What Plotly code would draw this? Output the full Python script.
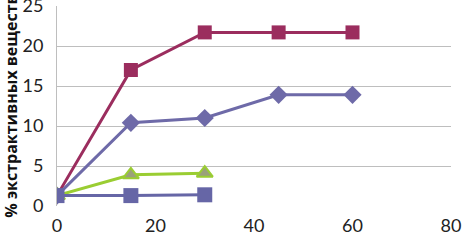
import plotly.graph_objects as go

x_long = [0, 15, 30, 45, 60]
x_short = [0, 15, 30]
s_maroon = [1.3, 17.0, 21.7, 21.7, 21.7]
s_diamond = [1.3, 10.4, 11.0, 13.9, 13.9]
s_green = [1.3, 3.9, 4.1]
s_blue = [1.3, 1.3, 1.4]
y_title = "% экстрактивных веществ"

fig = go.Figure()
fig.add_trace(go.Scatter(x=x_long, y=s_maroon, mode="lines+markers",
    line=dict(color="#9B2D5E", width=3),
    marker=dict(symbol="square", size=14, color="#9B2D5E")))
fig.add_trace(go.Scatter(x=x_long, y=s_diamond, mode="lines+markers",
    line=dict(color="#6E6AA8", width=3),
    marker=dict(symbol="diamond", size=14, color="#6E6AA8")))
fig.add_trace(go.Scatter(x=x_short, y=s_green, mode="lines+markers",
    line=dict(color="#9ACD32", width=3),
    marker=dict(symbol="triangle-up", size=14, color="#9AA07A",
                line=dict(color="#9ACD32", width=2))))
fig.add_trace(go.Scatter(x=x_short, y=s_blue, mode="lines+markers",
    line=dict(color="#6666A6", width=3),
    marker=dict(symbol="square", size=15, color="#6666A6")))

fig.update_layout(
    width=463, height=241,
    margin=dict(l=57, r=12, t=6, b=35, autoexpand=False),
    paper_bgcolor="white", plot_bgcolor="white",
    showlegend=False,
    font=dict(family="Lato, Open Sans, sans-serif", size=18, color="#222"),
    xaxis=dict(range=[0, 80], tickvals=[0, 20, 40, 60, 80], showgrid=False,
               zeroline=False, showline=False, ticks="", ticklabelstandoff=7,
               automargin=False, ticklabeloverflow="allow"),
    yaxis=dict(range=[0, 25], tickvals=[0, 5, 10, 15, 20, 25], showgrid=True,
               gridcolor="#BEBEBE", gridwidth=1, zeroline=False,
               showline=True, linecolor="#BEBEBE", linewidth=1, ticks="",
               ticklabelstandoff=9, automargin=False, ticklabeloverflow="allow",
               title=dict(text=y_title, font=dict(size=16, color="#111",
                          family="Open Sans, sans-serif", weight="bold"),
                          standoff=4)),
)
fig.write_html("out.html", config={"displayModeBar": False},
               post_script="document.body.style.margin='0';")
